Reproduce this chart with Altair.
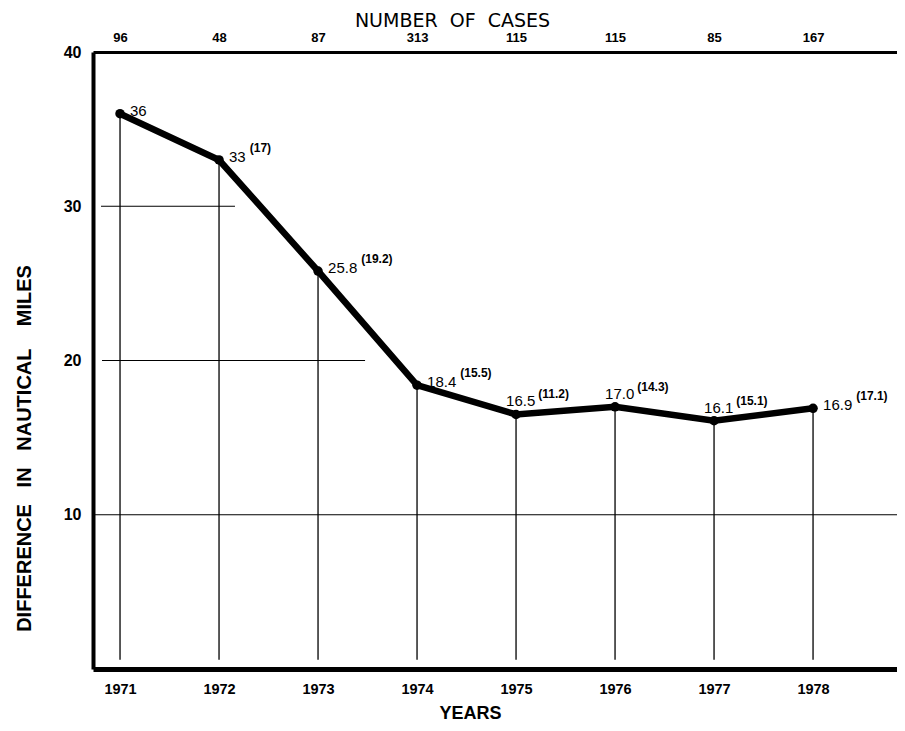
import altair as alt
import pandas as pd

years = [1971, 1972, 1973, 1974, 1975, 1976, 1977, 1978]
diff = [36, 33, 25.8, 18.4, 16.5, 17.0, 16.1, 16.9]
main_labels = ["36", "33", "25.8", "18.4", "16.5", "17.0", "16.1", "16.9"]
paren_labels = ["", "(17)", "(19.2)", "(15.5)", "(11.2)", "(14.3)", "(15.1)", "(17.1)"]
cases = [96, 48, 87, 313, 115, 115, 85, 167]
grid_y = [30, 20, 10]
grid_x_start = [1970.808, 1970.818, 1970.727]
grid_x_end = [1972.161, 1973.475, 1978.848]

REG = "Liberation Sans"
WIDE = "DejaVu Sans"
XDOM = [1970.727, 1978.848]
YDOM = [0, 40]
PXY = 99.0  # pixels per year on the x scale (804 / 8.121)

df = pd.DataFrame({"year": years, "diff": diff, "main": main_labels,
                   "paren": paren_labels, "cases": cases})
gdf = pd.DataFrame({"gy": grid_y, "gx": grid_x_start, "gx2": grid_x_end})

xs = alt.Scale(domain=XDOM, nice=False, zero=False)
ys = alt.Scale(domain=YDOM, nice=False, zero=False)

base = alt.Chart(df)
sp3 = "\u00a0\u00a0\u00a0"
ytitle = "DIFFERENCE" + sp3 + "IN" + sp3 + "NAUTICAL" + sp3 + "\u00a0MILES"

# bottom + left axes with the vertical drop lines
drops = base.mark_rule(color="black", strokeWidth=1.3).encode(
    x=alt.X("year:Q", scale=xs, title="YEARS",
            axis=alt.Axis(values=years, format="d", orient="bottom", grid=False,
                          ticks=False, domainWidth=5, domainColor="black",
                          labelFont=REG, labelFontSize=14.5, labelFontWeight="bold",
                          labelColor="black", labelPadding=13,
                          titleFont=REG, titleFontSize=18, titleFontWeight="bold",
                          titleColor="black", titleX=377, titleY=49,
                          titleBaseline="alphabetic", titleAlign="center")),
    y=alt.Y("diff:Q", scale=ys, title=ytitle,
            axis=alt.Axis(values=[10, 20, 30, 40], orient="left", grid=False, ticks=False,
                          domainWidth=4, domainColor="black",
                          labelFont=REG, labelFontSize=16, labelFontWeight="bold",
                          labelColor="black", labelPadding=12,
                          titleFont=REG, titleFontSize=20, titleFontWeight="bold",
                          titleColor="black", titleX=-69, titleY=396, titleAngle=270,
                          titleAlign="center", titleBaseline="middle")),
    y2=alt.datum(0.6),
)

# top axis: number of cases
case_expr = "[" + ",".join("'%d'" % c for c in cases) + "][datum.value - %d]" % years[0]
top = base.mark_point(opacity=0).encode(
    x=alt.X("year:Q", scale=xs, title="NUMBER\u00a0\u00a0OF\u00a0\u00a0CASES",
            axis=alt.Axis(values=years, orient="top", labelExpr=case_expr, grid=False,
                          ticks=False, domainWidth=3, domainColor="black",
                          labelFont=REG, labelFontSize=13, labelFontWeight="bold",
                          labelColor="black", labelPadding=8,
                          titleFont=WIDE, titleFontSize=19, titleFontWeight="normal",
                          titleColor="black", titleX=359, titleY=-26,
                          titleBaseline="alphabetic", titleAlign="center")),
    y=alt.Y("diff:Q", scale=ys, axis=None),
)

grid = alt.Chart(gdf).mark_rule(color="black", strokeWidth=1.2).encode(
    x=alt.X("gx:Q", scale=xs, axis=None),
    x2="gx2:Q",
    y=alt.Y("gy:Q", scale=ys, axis=None),
)

line = base.mark_line(color="black", strokeWidth=6.5).encode(
    x=alt.X("year:Q", scale=xs, axis=None),
    y=alt.Y("diff:Q", scale=ys, axis=None),
)
pts = base.mark_circle(color="black", opacity=1, size=90).encode(
    x=alt.X("year:Q", scale=xs, axis=None),
    y=alt.Y("diff:Q", scale=ys, axis=None),
)

mid = "datum.year >= 1975 && datum.year <= 1977"
not_mid = "!(" + mid + ")"
width_expr = ("(length(replace(datum.main, '.', '')) * 8.34 + "
              "(length(datum.main) - length(replace(datum.main, '.', ''))) * 4.17)")

def main_text(flt, dx, dy):
    return base.transform_filter(flt).mark_text(
        align="left", baseline="alphabetic", dx=dx, dy=dy, font=REG, fontSize=15,
        fontWeight="normal", color="black").encode(
        x=alt.X("year:Q", scale=xs, axis=None),
        y=alt.Y("diff:Q", scale=ys, axis=None),
        text="main:N",
    )

def sup_text(flt, start, dy):
    return base.transform_filter(flt).transform_calculate(
        sx="datum.year + (" + width_expr + " + %f) / %f" % (start, PXY)).mark_text(
        align="left", baseline="alphabetic", dy=dy, font=REG, fontSize=12,
        fontWeight="bold", color="black").encode(
        x=alt.X("sx:Q", scale=xs, axis=None),
        y=alt.Y("diff:Q", scale=ys, axis=None),
        text="paren:N",
    )

lab_right = main_text(not_mid, 10, 2)
lab_mid = main_text(mid, -10, -8)
sup_right = sup_text(not_mid, 14, -8)
sup_mid = sup_text(mid, -7, -16)

chart = alt.layer(drops, top, grid, line, pts, lab_right, lab_mid, sup_right, sup_mid).resolve_axis(
    x="independent", y="independent"
).properties(
    width=804, height=617,
    autosize=alt.AutoSizeParams(type="none"),
    padding={"left": 85, "top": 44, "right": 0, "bottom": 54},
).configure_view(stroke=None).configure(background="white")

chart.save("out.html", embed_options={"renderer": "svg", "actions": False})
